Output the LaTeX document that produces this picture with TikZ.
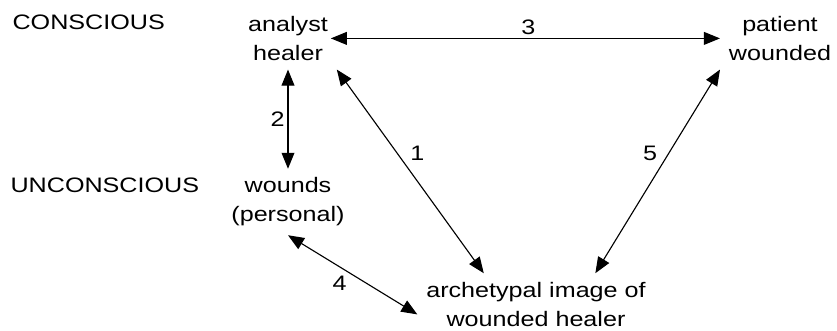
\documentclass[tikz,border=0pt]{standalone}
\usepackage{fontspec}
\setmainfont{Liberation Sans}[FakeStretch=1.2]
\usetikzlibrary{arrows.meta}
\usetikzlibrary{calc}
\tikzset{>={Triangle[length=4mm, width=3.2mm]},
         num/.style = {inner sep=2pt}}

\begin{document}
\begin{tikzpicture}[line width=0.8pt,
                    every node/.style={inner sep=6pt, align=center,
                                       font=\fontsize{14.9}{20.6}\selectfont}]
    \useasboundingbox (0, 0) rectangle (20.925, 8.25);

    \node [anchor=base west, inner sep=0pt] (con) at (0.3, 7.5) {CONSCIOUS};
    \node [anchor=base west, inner sep=0pt] (uncon) at (0.25, 3.45) {UNCONSCIOUS};

    \node (an) at (7.2, 7.29) {analyst\\healer};
    \node (pa) at (19.5, 7.29) {patient\\wounded};
    \node (wo) at (7.2, 3.2) {wounds\\(personal)};
    \node (ar) at (13.4, 0.64) {archetypal image of\\wounded healer};

    \draw [<->, shorten <=-0.15cm] (an.east) -- (pa.west) node [num, midway, above] {3};
    \draw [<->] (an.south) -- (wo.north) node [num, midway, left] {2};
    \draw [<->] (an.south east) -- ($(ar.north west)!.28!(ar.north east)$)
        node [num, pos=.41, right=7pt] {1};
    \draw [<->] (pa.south west) -- ($(ar.north west)!.75!(ar.north east)$)
        node [num, pos=.41, left=6pt] {5};
    \draw [<->] (wo.south) -- ($(ar.west)+(0, -0.25)$) node [num, pos=.4, below=4pt] {4};
\end{tikzpicture}
\end{document}
